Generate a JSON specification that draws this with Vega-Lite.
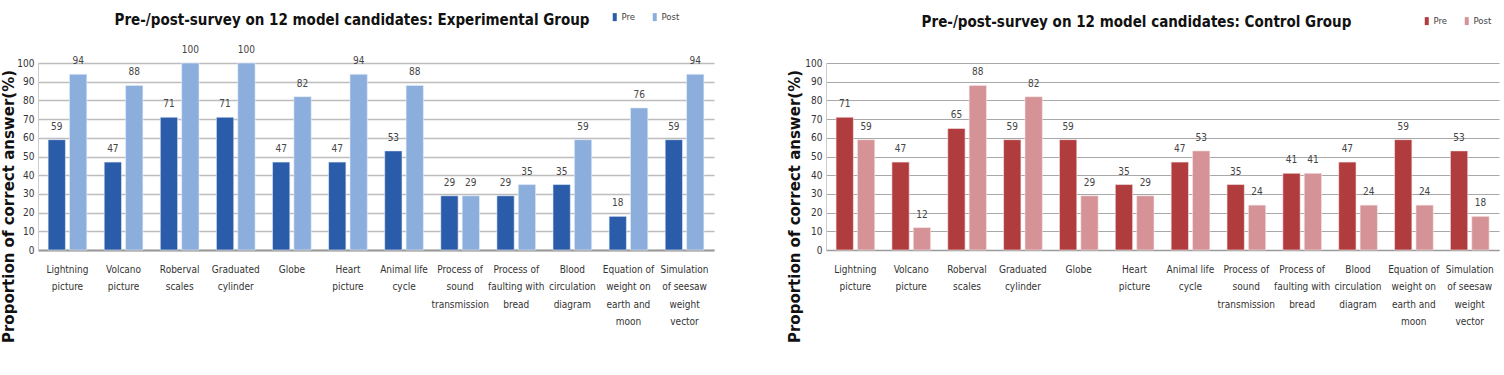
{
  "$schema": "https://vega.github.io/schema/vega-lite/v6.json",
  "padding": {"left": 0, "top": 12, "right": 2, "bottom": 0},
  "background": "white",
  "spacing": 72,
  "config": {
    "view": {"stroke": null},
    "font": "DejaVu Sans Condensed, sans-serif",
    "axis": {"labelFont": "DejaVu Sans Condensed, sans-serif", "labelColor": "#333333"},
    "legend": {"labelFont": "DejaVu Sans Condensed, sans-serif"}
  },
  "datasets": {
    "survey": [
      {"group": "Experimental", "model": "Lightning picture", "phase": "Pre", "value": 59},
      {"group": "Experimental", "model": "Lightning picture", "phase": "Post", "value": 94},
      {"group": "Experimental", "model": "Volcano picture", "phase": "Pre", "value": 47},
      {"group": "Experimental", "model": "Volcano picture", "phase": "Post", "value": 88},
      {"group": "Experimental", "model": "Roberval scales", "phase": "Pre", "value": 71},
      {"group": "Experimental", "model": "Roberval scales", "phase": "Post", "value": 100},
      {"group": "Experimental", "model": "Graduated cylinder", "phase": "Pre", "value": 71},
      {"group": "Experimental", "model": "Graduated cylinder", "phase": "Post", "value": 100},
      {"group": "Experimental", "model": "Globe", "phase": "Pre", "value": 47},
      {"group": "Experimental", "model": "Globe", "phase": "Post", "value": 82},
      {"group": "Experimental", "model": "Heart picture", "phase": "Pre", "value": 47},
      {"group": "Experimental", "model": "Heart picture", "phase": "Post", "value": 94},
      {"group": "Experimental", "model": "Animal life cycle", "phase": "Pre", "value": 53},
      {"group": "Experimental", "model": "Animal life cycle", "phase": "Post", "value": 88},
      {"group": "Experimental", "model": "Process of sound transmission", "phase": "Pre", "value": 29},
      {"group": "Experimental", "model": "Process of sound transmission", "phase": "Post", "value": 29},
      {"group": "Experimental", "model": "Process of faulting with bread", "phase": "Pre", "value": 29},
      {"group": "Experimental", "model": "Process of faulting with bread", "phase": "Post", "value": 35},
      {"group": "Experimental", "model": "Blood circulation diagram", "phase": "Pre", "value": 35},
      {"group": "Experimental", "model": "Blood circulation diagram", "phase": "Post", "value": 59},
      {"group": "Experimental", "model": "Equation of weight on earth and moon", "phase": "Pre", "value": 18},
      {"group": "Experimental", "model": "Equation of weight on earth and moon", "phase": "Post", "value": 76},
      {"group": "Experimental", "model": "Simulation of seesaw weight vector", "phase": "Pre", "value": 59},
      {"group": "Experimental", "model": "Simulation of seesaw weight vector", "phase": "Post", "value": 94},
      {"group": "Control", "model": "Lightning picture", "phase": "Pre", "value": 71},
      {"group": "Control", "model": "Lightning picture", "phase": "Post", "value": 59},
      {"group": "Control", "model": "Volcano picture", "phase": "Pre", "value": 47},
      {"group": "Control", "model": "Volcano picture", "phase": "Post", "value": 12},
      {"group": "Control", "model": "Roberval scales", "phase": "Pre", "value": 65},
      {"group": "Control", "model": "Roberval scales", "phase": "Post", "value": 88},
      {"group": "Control", "model": "Graduated cylinder", "phase": "Pre", "value": 59},
      {"group": "Control", "model": "Graduated cylinder", "phase": "Post", "value": 82},
      {"group": "Control", "model": "Globe", "phase": "Pre", "value": 59},
      {"group": "Control", "model": "Globe", "phase": "Post", "value": 29},
      {"group": "Control", "model": "Heart picture", "phase": "Pre", "value": 35},
      {"group": "Control", "model": "Heart picture", "phase": "Post", "value": 29},
      {"group": "Control", "model": "Animal life cycle", "phase": "Pre", "value": 47},
      {"group": "Control", "model": "Animal life cycle", "phase": "Post", "value": 53},
      {"group": "Control", "model": "Process of sound transmission", "phase": "Pre", "value": 35},
      {"group": "Control", "model": "Process of sound transmission", "phase": "Post", "value": 24},
      {"group": "Control", "model": "Process of faulting with bread", "phase": "Pre", "value": 41},
      {"group": "Control", "model": "Process of faulting with bread", "phase": "Post", "value": 41},
      {"group": "Control", "model": "Blood circulation diagram", "phase": "Pre", "value": 47},
      {"group": "Control", "model": "Blood circulation diagram", "phase": "Post", "value": 24},
      {"group": "Control", "model": "Equation of weight on earth and moon", "phase": "Pre", "value": 59},
      {"group": "Control", "model": "Equation of weight on earth and moon", "phase": "Post", "value": 24},
      {"group": "Control", "model": "Simulation of seesaw weight vector", "phase": "Pre", "value": 53},
      {"group": "Control", "model": "Simulation of seesaw weight vector", "phase": "Post", "value": 18}
    ]
  },
  "data": {"name": "survey"},
  "resolve": {"scale": {"color": "independent"}, "legend": {"color": "independent"}},
  "hconcat": [
    {
      "width": 676,
      "height": 187,
      "title": {"text": "Pre-/post-survey on 12 model candidates: Experimental Group", "font": "DejaVu Sans Condensed", "fontSize": 15, "fontWeight": "bold", "color": "#111111", "anchor": "middle", "dx": -24, "offset": -16},
      "transform": [{"filter": "datum.group === 'Experimental'"}],
      "encoding": {
        "x": {"field": "model", "type": "nominal", "sort": null,
          "scale": {"paddingInner": 0.31, "paddingOuter": 0.18},
          "axis": {"title": null, "labelAngle": 0, "labelFontSize": 10, "labelLineHeight": 17.5, "labelPadding": 14, "ticks": false, "domainColor": "#9a9a9a", "domainWidth": 2, "labelLimit": 0,
            "labelExpr": "({'Lightning picture':['Lightning','picture'],'Volcano picture':['Volcano','picture'],'Roberval scales':['Roberval','scales'],'Graduated cylinder':['Graduated','cylinder'],'Globe':['Globe'],'Heart picture':['Heart','picture'],'Animal life cycle':['Animal life','cycle'],'Process of sound transmission':['Process of','sound','transmission'],'Process of faulting with bread':['Process of','faulting with','bread'],'Blood circulation diagram':['Blood','circulation','diagram'],'Equation of weight on earth and moon':['Equation of','weight on','earth and','moon'],'Simulation of seesaw weight vector':['Simulation','of seesaw','weight','vector']})[datum.value]"}},
        "xOffset": {"field": "phase", "type": "nominal", "sort": ["Pre", "Post"], "scale": {"paddingInner": 0.19}},
        "y": {"field": "value", "type": "quantitative", "scale": {"domain": [0, 100]},
          "axis": {"title": "Proportion of correct answer(%)", "titleFont": "DejaVu Sans", "titleFontSize": 15, "titleFontWeight": "bold", "titleColor": "#111111", "titleX": -22, "titleY": 143, "values": [0,10,20,30,40,50,60,70,80,90,100], "labelFontSize": 10, "labelPadding": 4, "ticks": false, "gridColor": "#bdbdbd", "gridWidth": 1.6, "domainColor": "#cccccc"}}
      },
      "layer": [
        {"mark": {"type": "bar", "stroke": "#e8eef8", "strokeWidth": 0.6},
         "encoding": {"color": {"field": "phase", "type": "nominal", "sort": ["Pre", "Post"],
           "scale": {"domain": ["Pre", "Post"], "range": ["#2A5CAA", "#8CAEDC"]},
           "legend": {"title": null, "orient": "none", "legendX": 572, "legendY": -51, "direction": "horizontal", "labelFontSize": 9.5, "labelColor": "#444444", "symbolType": "M-0.5,-1L0.5,-1L0.5,1L-0.5,1Z", "symbolSize": 64, "symbolStrokeWidth": 0, "labelOffset": 2, "columnPadding": 14, "padding": 0}}}},
        {"mark": {"type": "text", "baseline": "bottom", "dy": -8, "fontSize": 10, "color": "#444444"},
         "encoding": {"text": {"field": "value", "type": "quantitative"}}}
      ]
    },
    {
      "width": 673,
      "height": 187,
      "title": {"text": "Pre-/post-survey on 12 model candidates: Control Group", "font": "DejaVu Sans Condensed", "fontSize": 15, "fontWeight": "bold", "color": "#111111", "anchor": "middle", "dx": -26, "offset": -14},
      "transform": [{"filter": "datum.group === 'Control'"}],
      "encoding": {
        "x": {"field": "model", "type": "nominal", "sort": null,
          "scale": {"paddingInner": 0.31, "paddingOuter": 0.18},
          "axis": {"title": null, "labelAngle": 0, "labelFontSize": 10, "labelLineHeight": 17.5, "labelPadding": 14, "ticks": false, "domainColor": "#9a9a9a", "domainWidth": 1.5, "labelLimit": 0,
            "labelExpr": "({'Lightning picture':['Lightning','picture'],'Volcano picture':['Volcano','picture'],'Roberval scales':['Roberval','scales'],'Graduated cylinder':['Graduated','cylinder'],'Globe':['Globe'],'Heart picture':['Heart','picture'],'Animal life cycle':['Animal life','cycle'],'Process of sound transmission':['Process of','sound','transmission'],'Process of faulting with bread':['Process of','faulting with','bread'],'Blood circulation diagram':['Blood','circulation','diagram'],'Equation of weight on earth and moon':['Equation of','weight on','earth and','moon'],'Simulation of seesaw weight vector':['Simulation','of seesaw','weight','vector']})[datum.value]"}},
        "xOffset": {"field": "phase", "type": "nominal", "sort": ["Pre", "Post"], "scale": {"paddingInner": 0.19}},
        "y": {"field": "value", "type": "quantitative", "scale": {"domain": [0, 100]},
          "axis": {"title": "Proportion of correct answer(%)", "titleFont": "DejaVu Sans", "titleFontSize": 15, "titleFontWeight": "bold", "titleColor": "#111111", "titleX": -24, "titleY": 143, "values": [0,10,20,30,40,50,60,70,80,90,100], "labelFontSize": 10, "labelPadding": 4, "ticks": false, "gridColor": "#a8a8a8", "gridWidth": 1.2, "domainColor": "#cccccc"}}
      },
      "layer": [
        {"mark": {"type": "bar", "stroke": "#f6eaea", "strokeWidth": 0.6},
         "encoding": {"color": {"field": "phase", "type": "nominal", "sort": ["Pre", "Post"],
           "scale": {"domain": ["Pre", "Post"], "range": ["#B03C3E", "#D59397"]},
           "legend": {"title": null, "orient": "none", "legendX": 596, "legendY": -47, "direction": "horizontal", "labelFontSize": 9.5, "labelColor": "#444444", "symbolType": "M-0.5,-1L0.5,-1L0.5,1L-0.5,1Z", "symbolSize": 64, "symbolStrokeWidth": 0, "labelOffset": 2, "columnPadding": 14, "padding": 0}}}},
        {"mark": {"type": "text", "baseline": "bottom", "dy": -8, "fontSize": 10, "color": "#444444"},
         "encoding": {"text": {"field": "value", "type": "quantitative"}}}
      ]
    }
  ]
}
